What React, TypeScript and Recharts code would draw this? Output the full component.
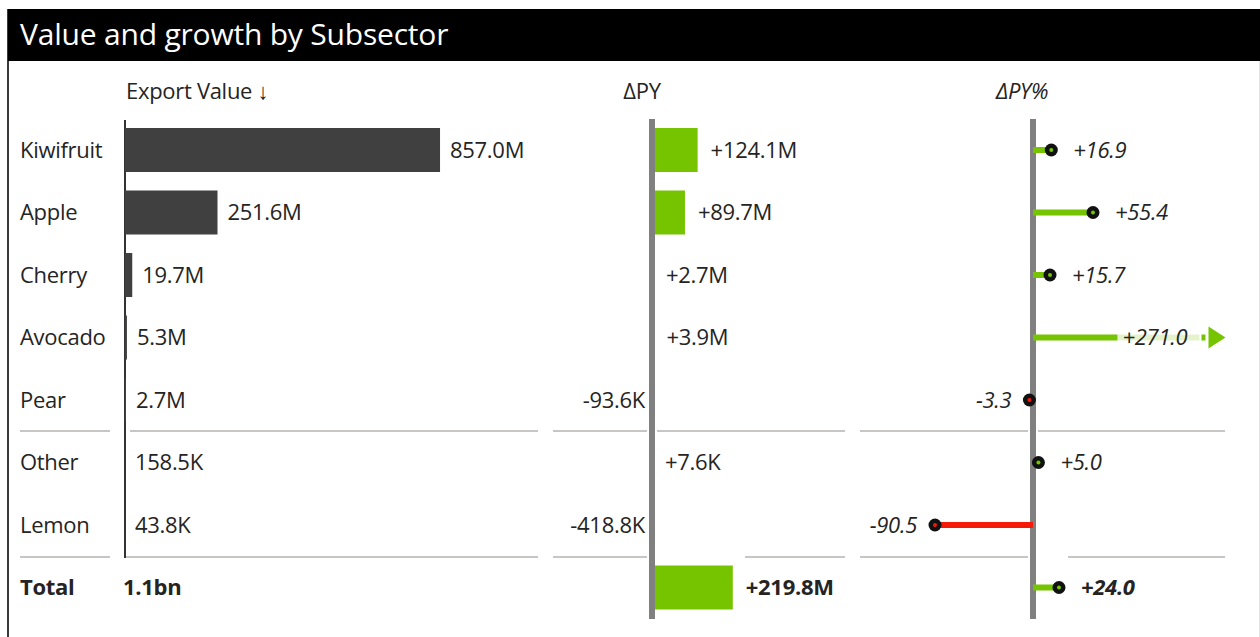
import React from "react"
import { BarChart, Bar, XAxis, YAxis, ReferenceLine, LabelList, Cell } from "recharts"

// rows of the table, top to bottom
const categories = ["Kiwifruit", "Apple", "Cherry", "Avocado", "Pear", "Other", "Lemon", "Total"]
// export value in millions (Total row is only a label)
const exportValue = [857.0, 251.6, 19.7, 5.3, 2.7, 0.1585, 0.0438]
const exportTotal = 1136.5
// change vs previous year, millions
const deltaPY = [124.1, 89.7, 2.7, 3.9, -0.0936, 0.0076, -0.4188, 219.8]
// change vs previous year, percent
const deltaPYPct = [16.9, 55.4, 15.7, 271.0, -3.3, 5.0, -90.5, 24.0]

const FONT = "'Open Sans', 'Noto Sans', sans-serif"
const FS = 22
const GREEN = "#76c400"
const RED = "#f5190a"
const DARK = "#404040"
const AXIS = "#808080"
const TEXT = "#252423"
const SEP = "#c8c6c4"

const ROW_H = 62.5
const TOP = 119
const H = categories.length * ROW_H
const PX_PER_M = 0.3676 // same scale for export value and ΔPY
const PX_PER_PCT = 1.083
const PCT_CAP = 78 // lollipops beyond this get cut with an arrow

const fmtM = (v: number) => {
  const a = Math.abs(v)
  if (a >= 1000) return (a / 1000).toFixed(1) + "bn"
  if (a >= 1) return a.toFixed(1) + "M"
  return (a * 1000).toFixed(1) + "K"
}
const sign = (v: number) => (v >= 0 ? "+" : "-")

const rows = categories.map((name, i) => ({
  name,
  exp: i < exportValue.length ? exportValue[i] : exportTotal,
  dpy: deltaPY[i],
  pct: deltaPYPct[i],
  pctBar: Math.min(deltaPYPct[i], PCT_CAP),
  isTotal: name === "Total",
}))

const txt = (bold: boolean, italic = false) => ({
  fontFamily: FONT,
  fontSize: FS,
  fill: TEXT,
  fontWeight: bold ? 700 : 400,
  fontStyle: italic ? "italic" : "normal",
  letterSpacing: -0.3,
})

const CatTick = (props: any) => {
  const { y, payload } = props
  const bold = payload.value === "Total"
  return (
    <text x={20} y={y} dy="0.35em" textAnchor="start" style={txt(bold)}>
      {payload.value}
    </text>
  )
}

const ExportLabel = (props: any) => {
  const { x, y, width, height, value, index } = props
  const isTotal = index === rows.length - 1 || value === exportTotal
  const tx = isTotal ? x - 2 : x + width + 10
  return (
    <text x={tx} y={y + height / 2} dy="0.35em" textAnchor="start" style={txt(isTotal)}>
      {fmtM(value)}
    </text>
  )
}

const DeltaLabel = (props: any) => {
  const { x, y, width, height, value, index } = props
  const lo = Math.min(x, x + width)
  const hi = Math.max(x, x + width)
  const bold = index === rows.length - 1
  const pos = value >= 0
  return (
    <text
      x={pos ? hi + 13 : lo - 7}
      y={y + height / 2}
      dy="0.35em"
      textAnchor={pos ? "start" : "end"}
      style={txt(bold)}
    >
      {sign(value) + fmtM(value)}
    </text>
  )
}

const Lollipop = (props: any) => {
  const { x, y, width, height, payload } = props
  const lo = Math.min(x, x + width)
  const hi = Math.max(x, x + width)
  const pos = payload.pct >= 0
  const end = pos ? hi : lo
  const color = pos ? GREEN : RED
  const cy = y + height / 2
  const label = sign(payload.pct) + Math.abs(payload.pct).toFixed(1)
  const style = txt(payload.isTotal, true)
  if (payload.pct > PCT_CAP) {
    return (
      <g>
        <rect x={lo} y={cy - 3} width={hi - lo} height={6} fill={color} />
        <rect x={end} y={cy - 3} width={82} height={6} fill={color} opacity={0.2} />
        <text x={end + 5} y={cy} dy="0.35em" style={style}>{label}</text>
        <rect x={end + 84} y={cy - 3} width={4} height={6} fill={color} />
        <path d={`M${end + 91},${cy - 11} L${end + 108},${cy} L${end + 91},${cy + 11} Z`} fill={color} />
      </g>
    )
  }
  return (
    <g>
      <rect x={lo} y={cy - 3} width={hi - lo} height={6} fill={color} />
      <circle cx={end} cy={cy} r={6.5} fill="#111" />
      <circle cx={end} cy={cy} r={2} fill={color} />
      <text
        x={pos ? end + 22 : end - 18}
        y={cy}
        dy="0.35em"
        textAnchor={pos ? "start" : "end"}
        style={style}
      >
        {label}
      </text>
    </g>
  )
}

// horizontal separators: [y, x1, x2]
const separators: [number, number, number][] = [
  [431, 20, 110], [431, 130, 538], [431, 553, 647], [431, 657, 845], [431, 860, 1028], [431, 1038, 1225],
  [557, 20, 110], [557, 124, 538], [557, 553, 647], [557, 745, 845], [557, 860, 1028], [557, 1068, 1225],
]

export default function App() {
  const head = { position: "absolute" as const, top: 76, fontFamily: FONT, fontSize: FS, color: TEXT, lineHeight: "28px", letterSpacing: -0.3 }
  return (
    <div style={{ position: "absolute", left: 0, top: 0, width: 1260, height: 637, background: "#fff", overflow: "hidden" }}>
      <div style={{ position: "absolute", left: 7, top: 9, width: 1250, height: 640, borderLeft: "2px solid #3a3a3a", borderRight: "1px solid #e3e3e3" }} />
      <div style={{ position: "absolute", left: 8, top: 9, width: 1252, height: 52, background: "#000", color: "#fff", fontFamily: FONT, fontSize: 30, lineHeight: "50px", paddingLeft: 12, boxSizing: "border-box", letterSpacing: -0.2 }}>
        Value and growth by Subsector
      </div>

      <div style={{ ...head, left: 126 }}>Export Value ↓</div>
      <div style={{ ...head, left: 602, width: 80, textAlign: "center" }}>ΔPY</div>
      <div style={{ ...head, left: 972, width: 100, textAlign: "center", fontStyle: "italic" }}>ΔPY%</div>

      {separators.map(([y, x1, x2], i) => (
        <div key={i} style={{ position: "absolute", left: x1, top: y - 1, width: x2 - x1, height: 2, background: SEP }} />
      ))}
      {/* export value axis stops above the total row */}
      <div style={{ position: "absolute", left: 124, top: 120, width: 2, height: 438, background: "#333" }} />

      <div style={{ position: "absolute", left: 0, top: TOP }}>
        <BarChart layout="vertical" width={560} height={H} data={rows} margin={{ top: 0, right: 0, bottom: 0, left: 0 }} barSize={44}>
          <XAxis type="number" hide domain={[0, 435 / PX_PER_M]} />
          <YAxis type="category" dataKey="name" width={125} axisLine={false} tickLine={false} tick={<CatTick />} interval={0} />
          <Bar dataKey="exp" isAnimationActive={false}>
            {rows.map((r) => (
              <Cell key={r.name} fill={r.isTotal ? "transparent" : DARK} />
            ))}
            <LabelList dataKey="exp" content={<ExportLabel />} />
          </Bar>
        </BarChart>
      </div>

      <div style={{ position: "absolute", left: 540, top: TOP }}>
        <BarChart layout="vertical" width={320} height={H} data={rows} margin={{ top: 0, right: 0, bottom: 0, left: 0 }} barSize={44}>
          <XAxis type="number" hide domain={[-112 / PX_PER_M, 208 / PX_PER_M]} />
          <YAxis type="category" dataKey="name" hide />
          <Bar dataKey="dpy" isAnimationActive={false}>
            {rows.map((r) => (
              <Cell key={r.name} fill={r.dpy >= 0 ? GREEN : RED} />
            ))}
            <LabelList dataKey="dpy" content={<DeltaLabel />} />
          </Bar>
          <ReferenceLine x={0} stroke={AXIS} strokeWidth={6} />
        </BarChart>
      </div>

      <div style={{ position: "absolute", left: 850, top: TOP }}>
        <BarChart layout="vertical" width={390} height={H} data={rows} margin={{ top: 0, right: 0, bottom: 0, left: 0 }} barSize={6}>
          <XAxis type="number" hide domain={[-183 / PX_PER_PCT, 207 / PX_PER_PCT]} allowDataOverflow />
          <YAxis type="category" dataKey="name" hide />
          <ReferenceLine x={0} stroke={AXIS} strokeWidth={6} zIndex={50} />
          <Bar dataKey="pctBar" isAnimationActive={false} shape={<Lollipop />} />
        </BarChart>
      </div>
    </div>
  )
}
